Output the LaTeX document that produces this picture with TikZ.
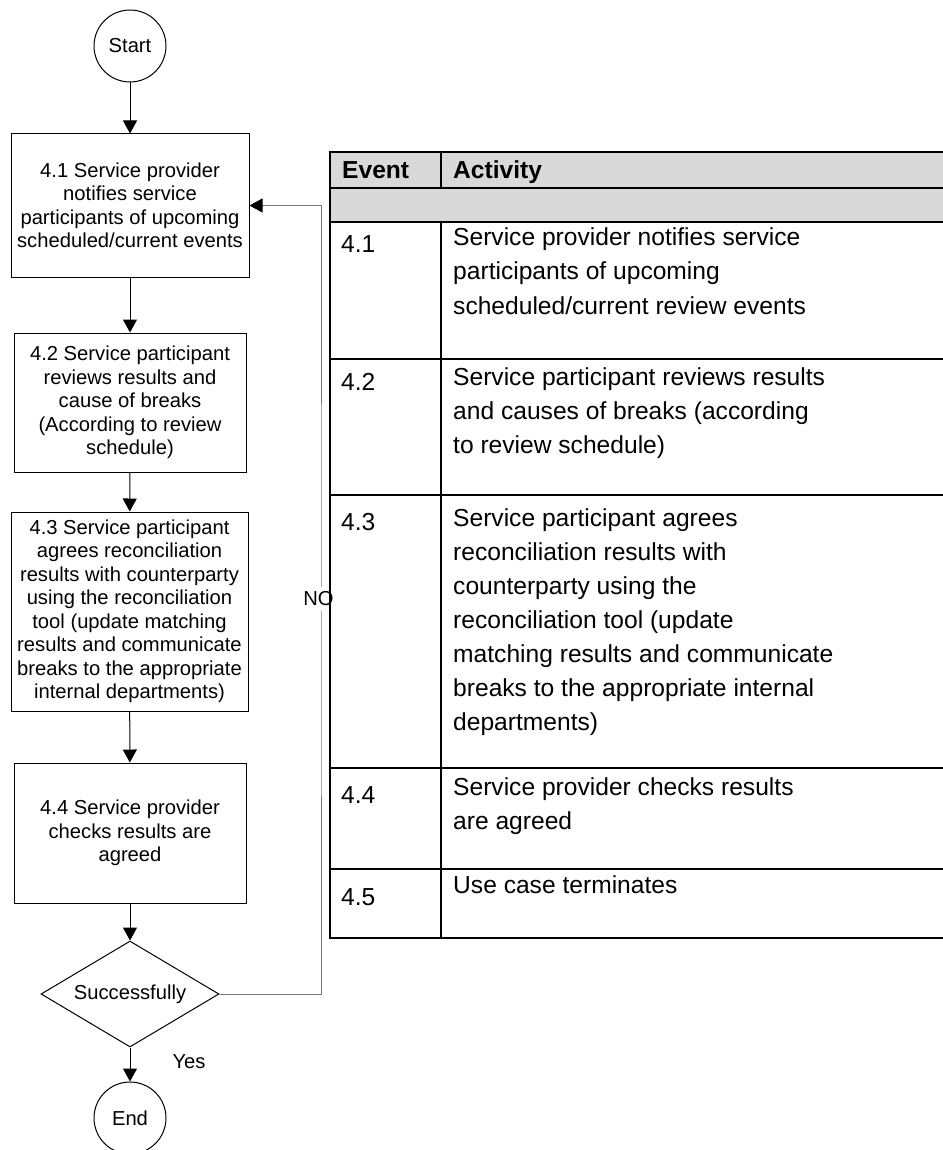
\documentclass[tikz,border=0pt]{standalone}
\usepackage{fontspec}
\setmainfont{Liberation Sans}
\usetikzlibrary{arrows.meta,shapes.geometric}
\definecolor{loopgray}{RGB}{120,120,120}
\definecolor{headgray}{RGB}{217,217,217}
\begin{document}
\begin{tikzpicture}[x=1pt,y=-1pt,
  every node/.style={font=\fontsize{20.2}{23.5}\selectfont},
  flow/.style={draw=black, line width=1pt},
  term/.style={flow, circle, minimum size=72pt, inner sep=0pt},
  proc/.style={flow, rectangle, align=center, inner sep=2pt},
  choice/.style={flow, diamond, aspect=1.68, minimum width=178pt, minimum height=106pt, inner sep=0pt},
  tip/.style={-{Triangle[length=13pt,width=14pt,color=black]}},
  link/.style={line width=1pt, tip},
  backlink/.style={line width=1pt, draw=loopgray, tip},
  grid/.style={line width=1.6pt, draw=black},
  cell/.style={anchor=base west, inner sep=0pt},
]
\useasboundingbox (0,0) rectangle (942,1150);
\fill[white] (0,0) rectangle (942,1150);

% flowchart
\node[term] (start) at (130,46) {Start};
\node[proc, minimum width=238pt, minimum height=143pt] (b41) at (130,205.5)
  {4.1 Service provider\\notifies service\\participants of upcoming\\scheduled/current events};
\node[proc, minimum width=232pt, minimum height=139pt] (b42) at (130,402.5)
  {4.2 Service participant\\reviews results and\\cause of breaks\\(According to review\\schedule)};
\node[proc, minimum width=237pt, minimum height=199pt] (b43) at (129.5,611.5)
  {4.3 Service participant\\agrees reconciliation\\results with counterparty\\using the reconciliation\\tool (update matching\\results and communicate\\breaks to the appropriate\\internal departments)};
\node[proc, minimum width=232pt, minimum height=140pt] (b44) at (130,833)
  {4.4 Service provider\\checks results are\\agreed};
\node[choice] (dec) at (130,994) {Successfully};
\node[term] (end) at (130,1118) {End};

\draw[link] (start) -- (b41);
\draw[link] (b41) -- (b42);
\draw[link] (b42) -- (b43);
\draw[link] (b43) -- (b44);
\draw[link] (b44) -- (dec);
\draw[link] (dec) -- (end);
\node (yes) at (189,1062) {Yes};

% loop back when not successful
\coordinate (bend) at (321,600);
\draw[backlink] (dec.east) -| (bend) |- (b41.east);
\node[fill=white, inner sep=5pt] (no) at (318.5,599) {NO};

% event / activity table
\fill[headgray] (330,152) rectangle (944,222);
\draw[grid] (330,152) -- (944,152);
\draw[grid] (330,188) -- (944,188);
\draw[grid] (330,222) -- (944,222);
\draw[grid] (330,359) -- (944,359);
\draw[grid] (330,495) -- (944,495);
\draw[grid] (330,768) -- (944,768);
\draw[grid] (330,869) -- (944,869);
\draw[grid] (330,938) -- (944,938);
\draw[grid] (330,151.2) -- (330,938.8);
\draw[grid] (441,152) -- (441,188);
\draw[grid] (441,222) -- (441,938);

\begin{scope}[every node/.style={font=\fontsize{24.6}{34}\selectfont}]
\node[cell] (hev) at (342,179) {\bfseries Event};
\node[cell] (hac) at (453,179) {\bfseries Activity};

\node[cell] (e41) at (341,253) {4.1};
\node[cell] (a41) at (453,246) {\parbox[t]{480pt}{\raggedright Service provider notifies service\\participants of upcoming\\scheduled/current review events}};
\node[cell] (e42) at (341,390) {4.2};
\node[cell] (a42) at (453,385) {\parbox[t]{480pt}{\raggedright Service participant reviews results\\and causes of breaks (according\\to review schedule)}};
\node[cell] (e43) at (341,530) {4.3};
\node[cell] (a43) at (453,526) {\parbox[t]{480pt}{\raggedright Service participant agrees\\reconciliation results with\\counterparty using the\\reconciliation tool (update\\matching results and communicate\\breaks to the appropriate internal\\departments)}};
\node[cell] (e44) at (341,803) {4.4};
\node[cell] (a44) at (453,795) {\parbox[t]{480pt}{\raggedright Service provider checks results\\are agreed}};
\node[cell] (e45) at (341,905) {4.5};
\node[cell] (a45) at (453,893) {\parbox[t]{480pt}{\raggedright Use case terminates}};
\end{scope}
\end{tikzpicture}
\end{document}
